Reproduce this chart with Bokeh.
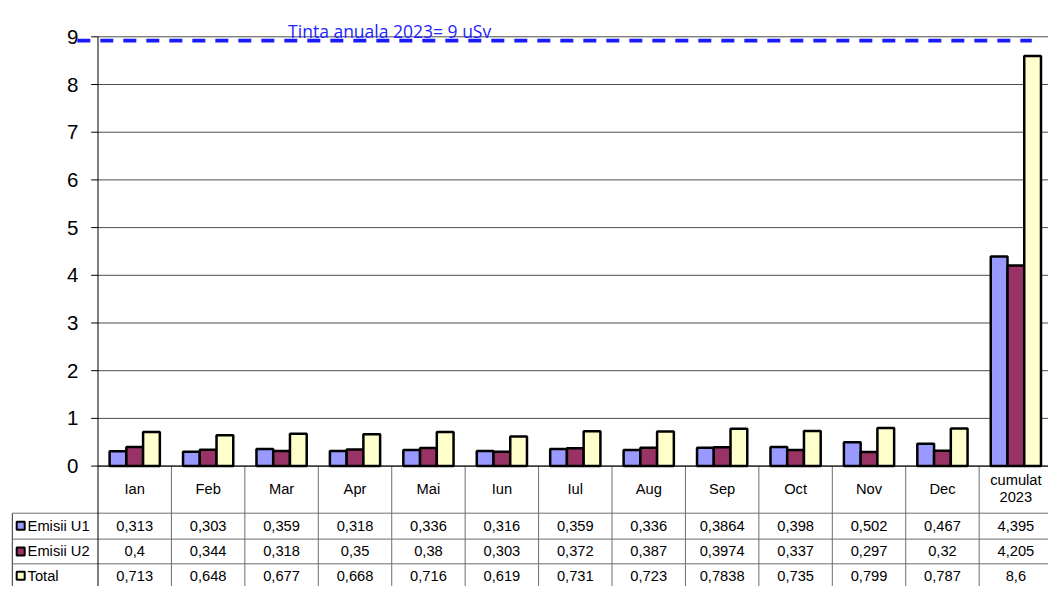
from bokeh.plotting import figure
from bokeh.models import ColumnDataSource
from bokeh.core.properties import value
from bokeh.embed import file_html
from bokeh.resources import INLINE

# ---------------- data ----------------
categories = ["Ian", "Feb", "Mar", "Apr", "Mai", "Iun", "Iul", "Aug", "Sep",
              "Oct", "Nov", "Dec", "cumulat\n2023"]
emisii_u1 = [0.313, 0.303, 0.359, 0.318, 0.336, 0.316, 0.359, 0.336, 0.3864,
             0.398, 0.502, 0.467, 4.395]
emisii_u2 = [0.4, 0.344, 0.318, 0.35, 0.38, 0.303, 0.372, 0.387, 0.3974,
             0.337, 0.297, 0.32, 4.205]
total = [0.713, 0.648, 0.677, 0.668, 0.716, 0.619, 0.731, 0.723, 0.7838,
         0.735, 0.799, 0.787, 8.6]
series_names = ["Emisii U1", "Emisii U2", "Total"]
y_ticks = [0, 1, 2, 3, 4, 5, 6, 7, 8, 9]
target_value = 8.92
target_label = "Tinta anuala 2023= 9 uSv"

# ---------------- layout helpers (reference pixels -> data units) ----------------
CW = 74.55      # px per category
PY = 49.0       # px per unit
X0 = 99.0
Y0 = 478.3
def dx(px):
    return (px - X0) / CW
def dy(py):
    return (Y0 - py) / PY

colors = ["#9999FF", "#993366", "#FFFFCC"]
FONT = value("Liberation Sans")
n = len(categories)
bw = 17.0 / CW

p = figure(width=1048, height=586, x_range=(dx(0), dx(1064)), y_range=(dy(602), dy(0)),
           x_axis_type=None, y_axis_type=None, toolbar_location=None,
           output_backend="svg", min_border=0, outline_line_color=None,
           background_fill_color="white", border_fill_color="white")
p.grid.visible = False

# gridlines and tick marks
p.segment(x0=[0] * len(y_ticks), x1=[dx(1064)] * len(y_ticks), y0=y_ticks, y1=y_ticks,
          line_color="#4d4d4d", line_width=1)
p.segment(x0=[dx(92)] * len(y_ticks), x1=[0] * len(y_ticks), y0=y_ticks, y1=y_ticks,
          line_color="black", line_width=1)
p.text(x=[dx(79)] * len(y_ticks), y=y_ticks, text=[str(t) for t in y_ticks],
       text_font=FONT, text_font_size="20.5px", text_align="right",
       text_baseline="middle", text_color="black")

# target line and label
p.segment(x0=[dx(78)], x1=[dx(1047)], y0=[target_value], y1=[target_value],
          line_color="#1a1aff", line_width=3.6, line_dash="13 10")
p.text(x=[dx(292)], y=[dy(31)], text=[target_label], text_font=value("Open Sans"),
       text_font_size="17.5px", text_align="left", text_baseline="alphabetic",
       text_color="#1f1fff")

# bars
centers = [i + 0.5 for i in range(n)]
for k, vals in enumerate([emisii_u1, emisii_u2, total]):
    src = ColumnDataSource(dict(x=[c + (k - 1) * bw for c in centers], top=vals))
    p.vbar(x="x", top="top", bottom=0, width=bw, source=src,
           fill_color=colors[k], line_color="black", line_width=2.5)

# ---------------- data table ----------------
row_lines = [526.7, 553.3, 578.7]
row_text = [539.5, 566, 591]
bottom = dy(602)
# vertical separators
p.segment(x0=list(range(1, n + 1)), x1=list(range(1, n + 1)),
          y0=[0] * n, y1=[bottom] * n, line_color="#6e6e6e", line_width=1)
# left label column border
p.segment(x0=[dx(12)], x1=[dx(12)], y0=[dy(row_lines[0])], y1=[bottom],
          line_color="#333333", line_width=1)
# horizontal lines
p.segment(x0=[dx(12)] * 3, x1=[dx(1064)] * 3, y0=[dy(r) for r in row_lines],
          y1=[dy(r) for r in row_lines], line_color="#6e6e6e", line_width=1)
# axis line (y axis + x axis)
p.segment(x0=[0], x1=[0], y0=[9], y1=[bottom], line_color="black", line_width=1)
p.segment(x0=[0], x1=[dx(1064)], y0=[0], y1=[0], line_color="black", line_width=1)

# header labels
p.text(x=centers, y=[dy(501.5)] * n, text=categories, text_font=FONT,
       text_font_size="14.7px", text_align="center", text_baseline="middle",
       text_line_height=1.1, text_color="black")

# values
for k, vals in enumerate([emisii_u1, emisii_u2, total]):
    p.text(x=centers, y=[dy(row_text[k])] * n,
           text=[str(v).replace(".", ",") for v in vals], text_font=FONT,
           text_font_size="14.7px", text_align="center", text_baseline="middle",
           text_color="black")

# row labels with legend keys
p.scatter(x=[dx(20.5)] * 3, y=[dy(r) for r in row_text], marker="square", size=8,
          fill_color=colors, line_color="black", line_width=2)
p.text(x=[dx(27.5)] * 3, y=[dy(r) for r in row_text], text=series_names,
       text_font=FONT, text_font_size="14.7px", text_align="left",
       text_baseline="middle", text_color="black")

open("out.html", "w").write(file_html(p, INLINE))
